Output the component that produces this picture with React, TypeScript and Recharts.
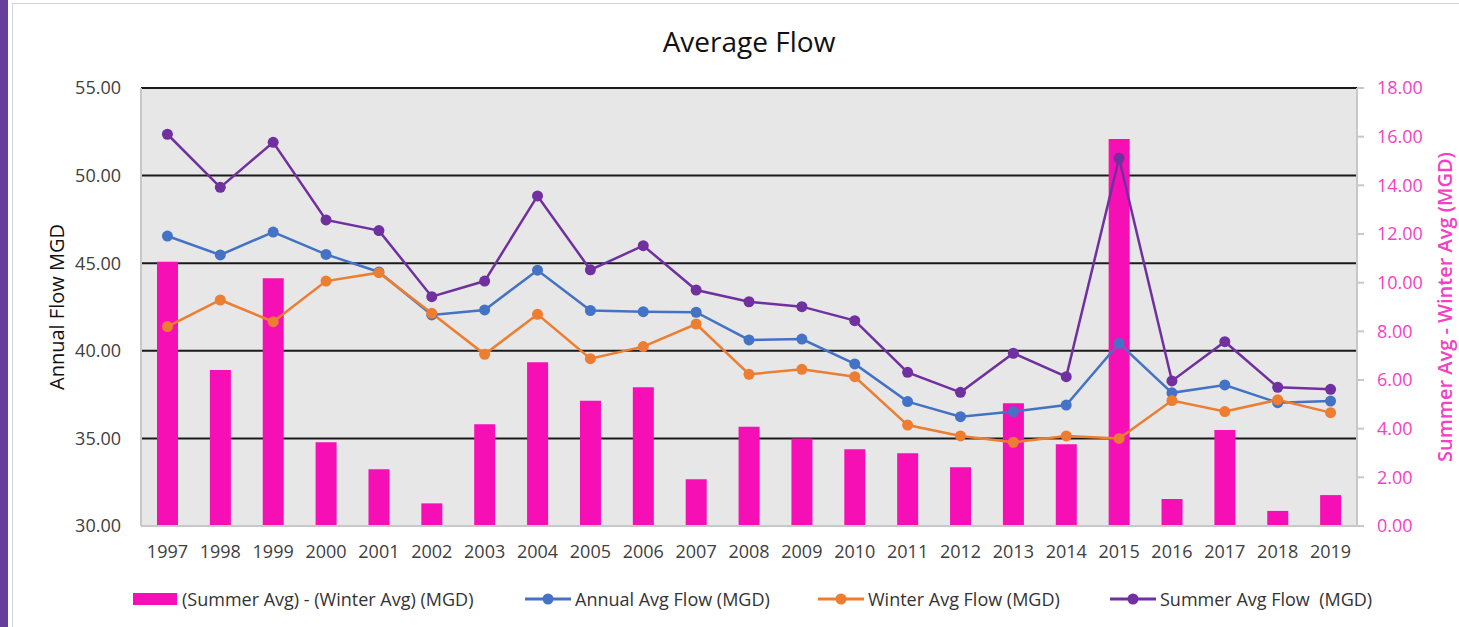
import React from 'react';
import { ComposedChart, Bar, Line, XAxis, YAxis, CartesianGrid } from 'recharts';

const years = ['1997','1998','1999','2000','2001','2002','2003','2004','2005','2006','2007','2008','2009','2010','2011','2012','2013','2014','2015','2016','2017','2018','2019'];
const diffValues = [10.86,6.41,10.18,3.44,2.33,0.93,4.18,6.73,5.15,5.70,1.92,4.08,3.60,3.15,2.99,2.41,5.04,3.36,15.90,1.11,3.95,0.62,1.27];
const annualValues = [46.55,45.47,46.78,45.50,44.50,42.05,42.33,44.60,42.30,42.23,42.20,40.62,40.67,39.25,37.10,36.24,36.53,36.90,40.43,37.60,38.05,37.04,37.13];
const winterValues = [41.38,42.90,41.66,43.98,44.46,42.14,39.80,42.08,39.55,40.24,41.53,38.66,38.94,38.52,35.76,35.14,34.78,35.14,35.00,37.16,36.53,37.20,36.47];
const summerValues = [52.36,49.33,51.90,47.47,46.86,43.09,43.98,48.84,44.62,46.00,43.47,42.80,42.52,41.72,38.77,37.63,39.86,38.52,50.99,38.28,40.52,37.92,37.80];

const leftTicks = [30, 35, 40, 45, 50, 55];
const rightTicks = [0, 2, 4, 6, 8, 10, 12, 14, 16, 18];

const seriesNames = {
  diff: '(Summer Avg) - (Winter Avg) (MGD)',
  annual: 'Annual Avg Flow (MGD)',
  winter: 'Winter Avg Flow (MGD)',
  summer: 'Summer Avg Flow  (MGD)',
};

const data = years.map((y, i) => ({
  year: y,
  diff: diffValues[i],
  annual: annualValues[i],
  winter: winterValues[i],
  summer: summerValues[i],
}));

const PINK = '#F60FB4';
const BLUE = '#4472C4';
const ORANGE = '#ED7D31';
const PURPLE = '#7030A0';
const PINK_TEXT = '#F43FC6';
const FONT = "'Open Sans', 'Noto Sans', sans-serif";

const fmt = (v: number) => v.toFixed(2);

const LegendItem = ({ left, color, label, bar }: { left: number; color: string; label: string; bar?: boolean }) => (
  <div style={{ position: 'absolute', left, top: 588, height: 22, display: 'flex', alignItems: 'center', whiteSpace: 'pre' }}>
    {bar ? (
      <div style={{ width: 44, height: 12, background: color, marginRight: 5 }} />
    ) : (
      <svg width={46} height={14} style={{ marginRight: 4 }}>
        <line x1={0} y1={7} x2={46} y2={7} stroke={color} strokeWidth={3} />
        <circle cx={23} cy={7} r={5.5} fill={color} />
      </svg>
    )}
    <span style={{ fontFamily: FONT, fontSize: 18, color: '#333' }}>{label}</span>
  </div>
);

export default function App() {
  return (
    <div style={{ position: 'absolute', left: 0, top: 0, width: 1459, height: 627, background: '#fff', overflow: 'hidden' }}>
      <div style={{ position: 'absolute', left: 0, top: 0, width: 8, height: 627, background: '#673E9B' }} />
      <div style={{ position: 'absolute', left: 12, top: 3, width: 1460, height: 640, borderLeft: '1px solid #d4d4d4', borderTop: '1px solid #d4d4d4' }} />
      <div style={{ position: 'absolute', left: 141, width: 1216, top: 22, textAlign: 'center', fontFamily: FONT, fontSize: 28, color: '#111' }}>
        Average Flow
      </div>
      <div style={{ position: 'absolute', left: 0, top: 0 }}>
        <ComposedChart width={1459} height={627} data={data} margin={{ top: 88, right: 2, bottom: 71, left: 41 }}>
          <CartesianGrid
            yAxisId="left"
            vertical={false}
            fill="#E7E7E7"
            stroke="#1a1a1a"
            strokeWidth={2}
          />
          <XAxis
            dataKey="year"
            interval={0}
            tickLine={false}
            tickSize={0}
            tickMargin={19}
            height={30}
            axisLine={{ stroke: '#c8c8c8', strokeWidth: 2 }}
            tick={{ fontFamily: FONT, fontSize: 18, fill: '#404040' }}
          />
          <YAxis
            yAxisId="left"
            orientation="left"
            width={100}
            domain={[30, 55]}
            ticks={leftTicks}
            tickFormatter={fmt}
            tickLine={false}
            tickSize={0}
            tickMargin={20}
            axisLine={{ stroke: '#c8c8c8', strokeWidth: 2 }}
            tick={{ fontFamily: FONT, fontSize: 18, fill: '#404040' }}
            label={{ value: 'Annual Flow MGD', angle: -90, position: 'insideLeft', offset: 16, style: { textAnchor: 'middle', fontFamily: FONT, fontSize: 20, fill: '#111' } }}
          />
          <YAxis
            yAxisId="right"
            orientation="right"
            width={100}
            domain={[0, 18]}
            ticks={rightTicks}
            tickFormatter={fmt}
            tickLine={{ stroke: '#c8c8c8', strokeWidth: 2 }}
            tickSize={7}
            tickMargin={13}
            axisLine={{ stroke: '#c8c8c8', strokeWidth: 2 }}
            tick={{ fontFamily: FONT, fontSize: 18, fill: PINK_TEXT }}
            label={{ value: 'Summer Avg - Winter Avg (MGD)', angle: -90, position: 'insideRight', offset: 12, style: { textAnchor: 'middle', fontFamily: FONT, fontSize: 20, fontWeight: 600, fill: PINK_TEXT } }}
          />
          <Bar yAxisId="right" dataKey="diff" name={seriesNames.diff} fill={PINK} barSize={21} isAnimationActive={false} />
          <Line yAxisId="left" type="linear" dataKey="annual" name={seriesNames.annual} stroke={BLUE} strokeWidth={2.5} dot={{ r: 5.5, fill: BLUE, stroke: BLUE, strokeWidth: 0 }} activeDot={false} isAnimationActive={false} />
          <Line yAxisId="left" type="linear" dataKey="winter" name={seriesNames.winter} stroke={ORANGE} strokeWidth={2.5} dot={{ r: 5.5, fill: ORANGE, stroke: ORANGE, strokeWidth: 0 }} activeDot={false} isAnimationActive={false} />
          <Line yAxisId="left" type="linear" dataKey="summer" name={seriesNames.summer} stroke={PURPLE} strokeWidth={2.5} dot={{ r: 5.5, fill: PURPLE, stroke: PURPLE, strokeWidth: 0 }} activeDot={false} isAnimationActive={false} />
        </ComposedChart>
      </div>
      <LegendItem left={133} color={PINK} label={seriesNames.diff} bar />
      <LegendItem left={525} color={BLUE} label={seriesNames.annual} />
      <LegendItem left={818} color={ORANGE} label={seriesNames.winter} />
      <LegendItem left={1110} color={PURPLE} label={seriesNames.summer} />
    </div>
  );
}
